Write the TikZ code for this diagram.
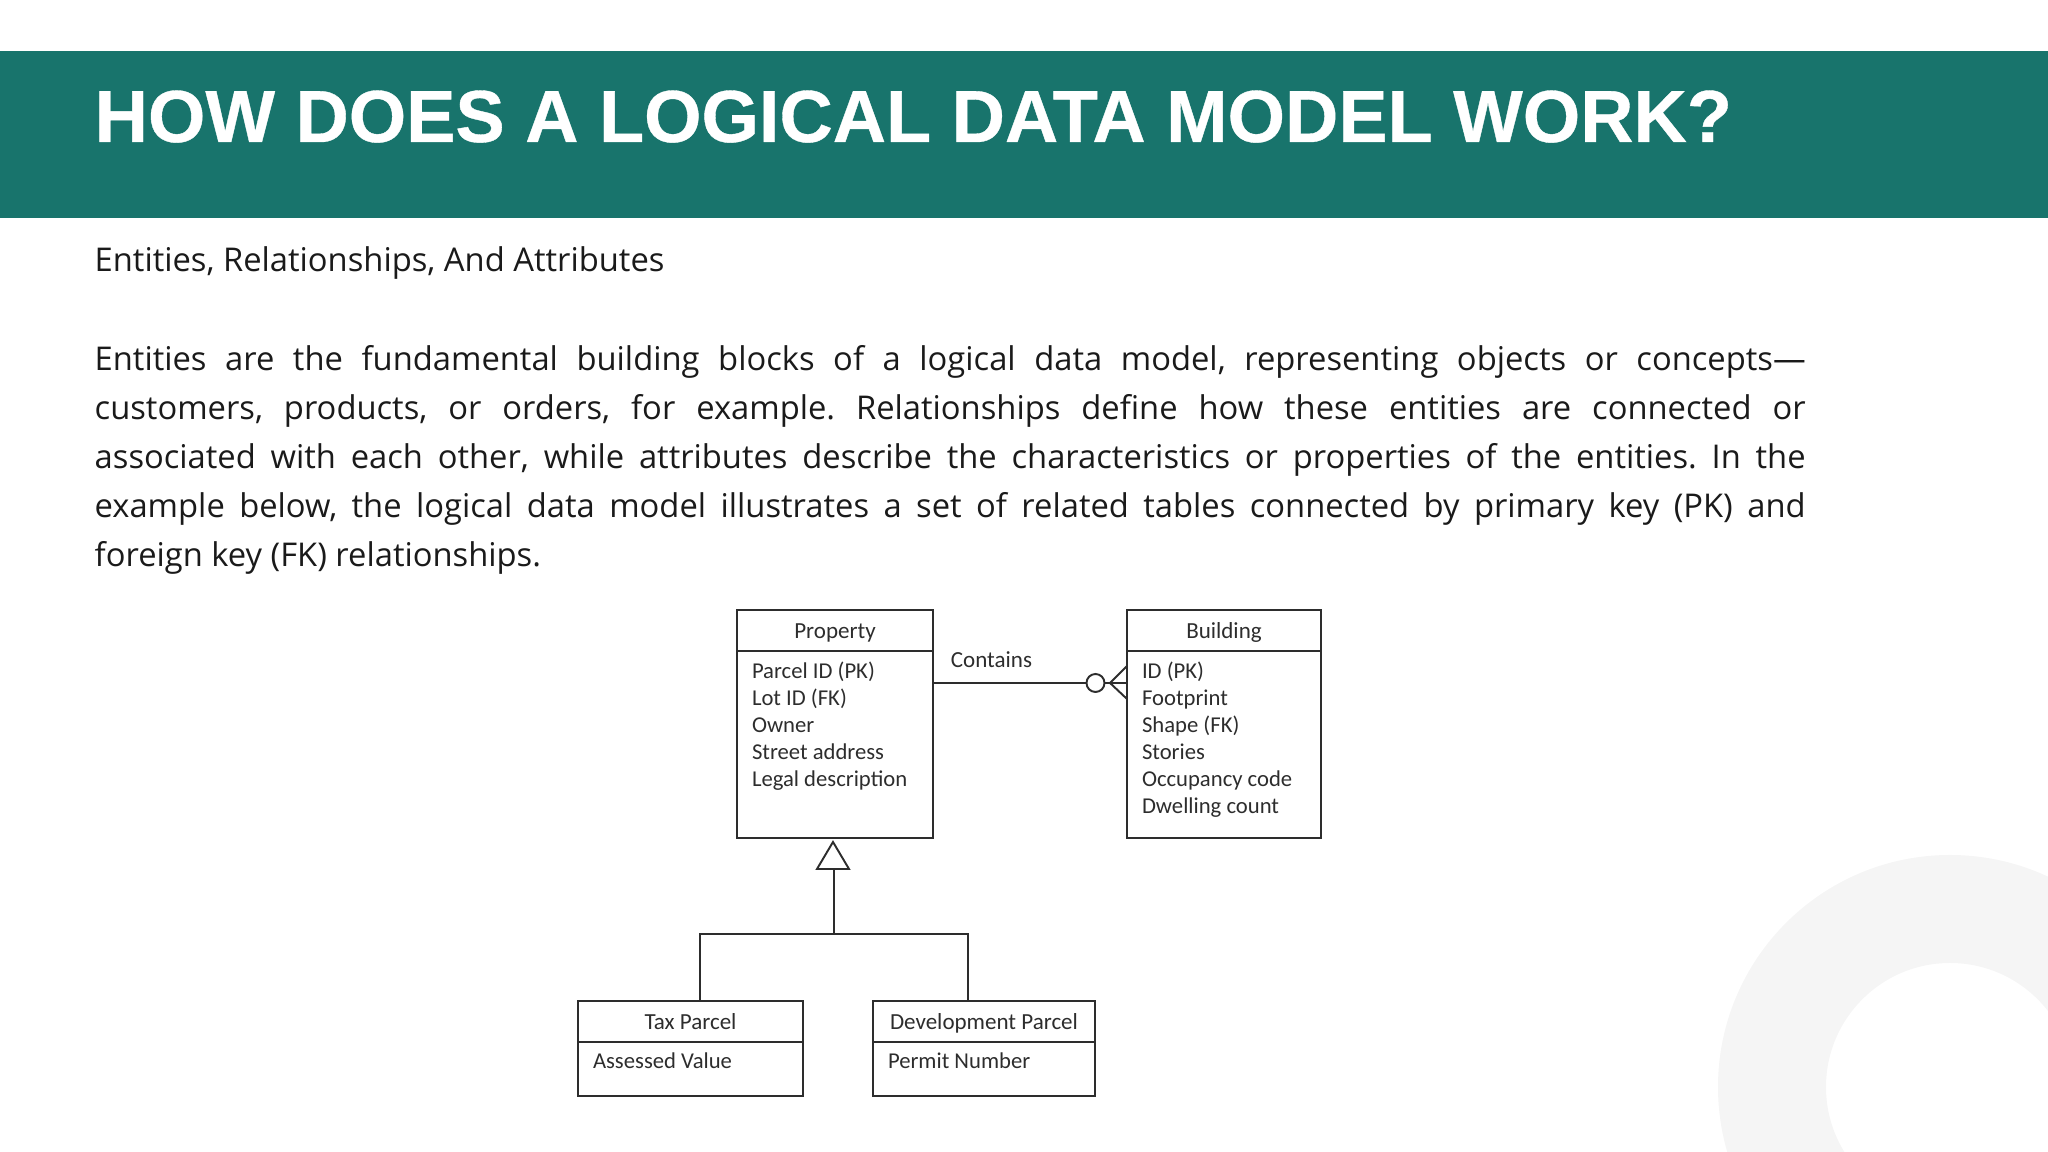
\documentclass[tikz,border=0pt]{standalone}
\usepackage{fontspec}
\setmainfont{Open Sans}
\newfontfamily\titlefont[FakeBold=0.5]{Liberation Sans}
\newfontfamily\boxfont{Carlito}
\usetikzlibrary{positioning}
\definecolor{color-banner}{RGB}{24,116,108}
\definecolor{color-ring}{RGB}{245,245,245}
\definecolor{color-line}{RGB}{45,45,45}
\definecolor{color-text}{RGB}{26,26,26}

\begin{document}
\begin{tikzpicture}[node distance=0.1cm,
 head/.style={draw=color-line,line width=0.55pt,inner sep=0pt,outer sep=0pt,minimum height=0.41cm,text height=0.22cm,text depth=0.05cm,text=color-line,font=\boxfont\fontsize{6.55}{7.68}\selectfont},
 body/.style={draw=color-line,line width=0.55pt,inner sep=0pt,outer sep=0pt},
 attrs/.style={inner sep=0pt,outer sep=0pt,align=left,text=color-line,font=\boxfont\fontsize{6.45}{7.68}\selectfont},
 link/.style={draw=color-line,line width=0.55pt}]

\useasboundingbox (0,0) rectangle (20.48,11.52);

\begin{scope}
\clip (0,0) rectangle (20.48,11.52);
\fill [color-ring, even odd rule] (19.5,0.65) circle (2.32) (19.5,0.65) circle (1.24);
\end{scope}

\fill [color-banner] (0,9.34) rectangle (20.48,11.01);

\node [anchor=base west, inner sep=0pt, text=white, font=\titlefont\bfseries\fontsize{21}{25}\selectfont] (title) at (0.94,10.10) {HOW DOES A LOGICAL DATA MODEL WORK?};
\node [anchor=base west, inner sep=0pt, text=color-text, font=\fontsize{9.31}{13.94}\selectfont] (subtitle) at (0.94,8.80) {Entities, Relationships, And Attributes};

\node [anchor=north west, inner sep=0pt, text width=17.11cm, align=justify, text=color-text, font=\frenchspacing\fontsize{9.31}{13.94}\selectfont] (para) at (0.94,8.075) {Entities are the fundamental building blocks of a logical data model, representing objects or concepts---\linebreak customers, products, or orders, for example. Relationships define how these entities are connected or\linebreak associated with each other, while attributes describe the characteristics or properties of the entities. In the\linebreak example below, the logical data model illustrates a set of related tables connected by primary key (PK) and\linebreak foreign key (FK) relationships.};

% the two entities on top
\node [head, minimum width=1.96cm](property-head) at (8.35,5.215) {Property};
\node [body, minimum width=1.96cm, minimum height=1.87cm](property-body) at (8.35,4.075) {};
\node [attrs, below right = 0.11cm and 0.15cm of property-body.north west](property-attrs) {Parcel ID (PK)\\Lot ID (FK)\\Owner\\Street address\\Legal description};

\node [head, minimum width=1.94cm](building-head) at (12.24,5.215) {Building};
\node [body, minimum width=1.94cm, minimum height=1.87cm](building-body) at (12.24,4.075) {};
\node [attrs, below right = 0.11cm and 0.15cm of building-body.north west](building-attrs) {ID (PK)\\Footprint\\Shape (FK)\\Stories\\Occupancy code\\Dwelling count};

% the two subtypes
\node [head, minimum width=2.25cm](tax-head) at (6.905,1.305) {Tax Parcel};
\node [body, minimum width=2.25cm, minimum height=0.54cm](tax-body) at (6.905,0.83) {};
\node [attrs, below right = 0.11cm and 0.15cm of tax-body.north west](tax-attrs) {Assessed Value};

\node [head, minimum width=2.22cm](dev-head) at (9.84,1.305) {Development Parcel};
\node [body, minimum width=2.22cm, minimum height=0.54cm](dev-body) at (9.84,0.83) {};
\node [attrs, below right = 0.11cm and 0.15cm of dev-body.north west](dev-attrs) {Permit Number};

% contains relation
\node [link, circle, inner sep=0pt, outer sep=0pt, minimum size=0.18cm](ring) at (10.955,4.69) {};
\coordinate (fork) at (11.10,4.69);
\coordinate (fork-up) at (11.27,4.86);
\coordinate (fork-down) at (11.27,4.53);
\draw [link] (property-body.east |- ring) -- (ring);
\draw [link] (ring) -- (building-body.west |- ring);
\draw [link] (fork-up) -- (fork) -- (fork-down);
\node [inner sep=0pt, anchor=base, text=color-line, font=\boxfont\fontsize{6.55}{7.68}\selectfont](contains) at (9.915,4.84) {Contains};

% generalization
\coordinate (apex) at (8.33,3.10);
\coordinate (base-left) at (8.17,2.83);
\coordinate (base-right) at (8.49,2.83);
\coordinate (stem) at (8.34,2.83);
\coordinate (split) at (8.34,2.18);
\coordinate (split-left) at (7.00,2.18);
\coordinate (split-right) at (9.68,2.18);
\draw [link] (apex) -- (base-left) -- (base-right) -- cycle;
\draw [link] (stem) -- (split);
\draw [link] (tax-head.north -| split-left) -- (split-left) -- (split-right) -- (dev-head.north -| split-right);

\end{tikzpicture}
\end{document}
